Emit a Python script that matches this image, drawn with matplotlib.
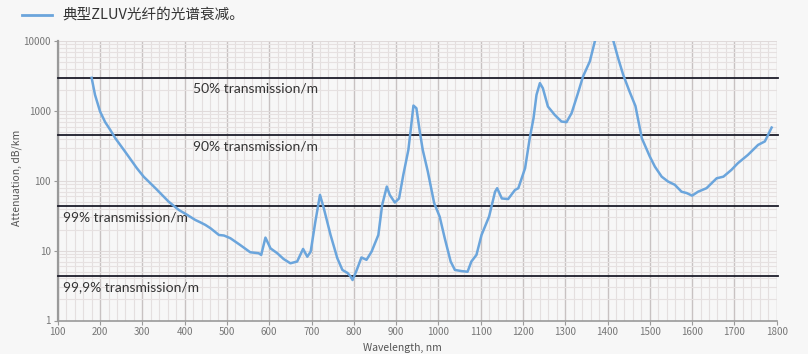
import matplotlib
matplotlib.use("Agg")
import matplotlib.pyplot as plt
from matplotlib.ticker import MultipleLocator, LogLocator, FixedLocator, NullFormatter
import numpy as np

plt.rcParams['font.family'] = ['Noto Sans CJK SC', 'DejaVu Sans']

wavelength = [180, 188, 200, 212, 224, 236, 259, 287, 303, 331, 362, 386, 406, 425, 437, 449,
              461, 481, 493, 508, 531, 555, 575, 581, 591, 603, 619, 634, 650, 666, 680, 690,
              698, 709, 720, 729, 745, 761, 773, 785, 792, 797, 807, 818, 830, 842, 858, 867,
              878, 885, 897, 907, 917, 929, 935, 941, 948, 956, 963, 975, 990, 1003, 1015, 1029,
              1039, 1055, 1069, 1078, 1090, 1102, 1120, 1134, 1139, 1150, 1165, 1181, 1189, 1205,
              1216, 1225, 1232, 1240, 1247, 1259, 1275, 1291, 1303, 1315, 1330, 1342, 1358, 1366,
              1370, 1385, 1400, 1414, 1425, 1437, 1452, 1466, 1481, 1500, 1512, 1528, 1543,
              1559, 1575, 1587, 1600, 1614, 1634, 1658, 1674, 1693, 1708, 1732, 1756, 1772, 1788]
attenuation = [3000, 1710, 985, 695, 538, 409, 263, 152, 115, 78.5, 50.5, 38.4, 32.6, 27.6, 25.5, 23.4,
               21, 16.8, 16.5, 15.1, 12.1, 9.5, 9.2, 8.7, 15.4, 10.8, 9.2, 7.6, 6.6, 7.0, 10.6, 8.2,
               9.7, 26, 63, 40.6, 16.8, 7.8, 5.3, 4.8, 4.3, 3.8, 5.3, 8.0, 7.4, 9.7, 16.8, 45,
               83, 63, 49, 56, 122, 278, 570, 1200, 1100, 509, 278, 136, 48, 30.8, 15.1, 7.0,
               5.3, 5.1, 5.0, 7.0, 8.7, 16.8, 31, 70, 78.6, 56, 55, 74, 78.6, 152,
               409, 793, 1710, 2517, 2130, 1163, 883, 709, 695, 935, 1806, 3131, 5140, 8000,
               10000, 20000, 22000, 10000, 5740, 3310, 1907, 1180, 409, 223, 160, 115, 98,
               88, 70, 67, 61.5, 70, 78.6, 109, 115, 144, 179, 236, 328, 368, 581]

thresholds = [3010, 457.6, 43.6, 4.345]
threshold_labels = ["50% transmission/m", "90% transmission/m", "99% transmission/m", "99,9% transmission/m"]
threshold_label_x = [420, 420, 112, 112]

x_ticks = list(range(100, 1900, 100))
y_ticks = [1, 10, 100, 1000, 10000]
y_tick_labels = ["1", "10", "100", "1000", "10000"]
legend_text = "典型ZLUV光纤的光谱衰减。"

bg = "#f7f7f7"
fig = plt.figure(figsize=(8.08, 3.54), dpi=100, facecolor=bg)
ax = fig.add_axes([57.8/808, 1-320.5/354, (776.7-57.8)/808, (320.5-41.3)/354])
ax.set_facecolor(bg)
ax.set_yscale('log')
ax.set_xlim(100, 1800)
ax.set_ylim(1, 10000)

ax.xaxis.set_major_locator(FixedLocator(x_ticks))
ax.xaxis.set_minor_locator(MultipleLocator(20))
ax.yaxis.set_major_locator(FixedLocator(y_ticks))
ax.yaxis.set_minor_locator(LogLocator(base=10, subs=np.arange(2, 10)))
ax.yaxis.set_minor_formatter(NullFormatter())
ax.set_yticklabels(y_tick_labels)
ax.set_xticklabels([str(t) for t in x_ticks])

ax.grid(which='major', axis='x', color='#c8c2c2', linewidth=1.0)
ax.grid(which='minor', axis='x', color='#e4dfdf', linewidth=0.8)
ax.grid(which='major', axis='y', color='#e0dada', linewidth=0.8)
ax.grid(which='minor', axis='y', color='#e6e1e1', linewidth=0.8)
ax.set_axisbelow(True)

for s in ['top', 'right']:
    ax.spines[s].set_visible(False)
ax.spines['left'].set_color('#9a9a9a')
ax.spines['left'].set_linewidth(1.6)
ax.spines['bottom'].set_color('#9a9a9a')
ax.spines['bottom'].set_linewidth(1.2)
ax.tick_params(which='major', axis='both', length=3, color='#9a9a9a', labelsize=7, labelcolor='#777777', pad=2)
ax.tick_params(which='minor', length=0)

for val, lab, lx in zip(thresholds, threshold_labels, threshold_label_x):
    ax.axhline(val, color='#1c1c2a', linewidth=1.3, xmin=0, xmax=1.002, clip_on=False, zorder=3)
    ax.text(lx, val * 0.84, lab, fontsize=10, color='#333333', va='top', ha='left',
            family=['Lato', 'DejaVu Sans'], zorder=4)

ax.plot(wavelength, attenuation, color='#6ba5dc', linewidth=1.8, zorder=5, solid_joinstyle='round')

ax.set_ylabel("Attenuation, dB/km", fontsize=7.5, color='#555555')
ax.yaxis.set_label_coords(-0.05, 0.51)
ax.set_xlabel("Wavelength, nm", fontsize=7.5, color='#555555')
ax.xaxis.set_label_coords(0.479, -0.08)

fig.lines.append(plt.Line2D([22/808, 52/808], [1-15/354, 1-15/354], color='#6ba5dc', linewidth=2, transform=fig.transFigure))
fig.text(62/808, 1-15/354, legend_text, fontsize=10.5, color='#333333', va='center', ha='left')

fig.savefig("out.png", dpi=100, facecolor=bg)
